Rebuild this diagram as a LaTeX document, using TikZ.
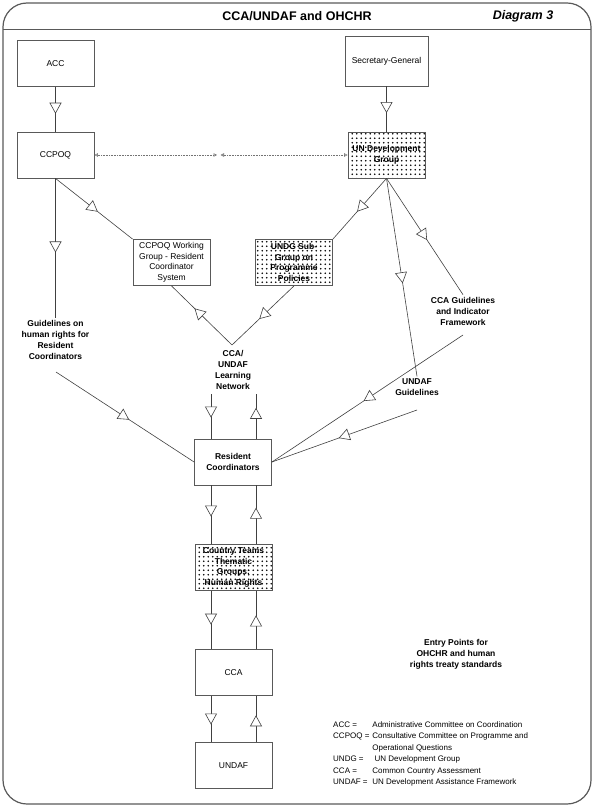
\documentclass[tikz,border=0pt]{standalone}
\usepackage{fontspec}
\setmainfont{Liberation Sans}
\usepackage{tikz}
\usetikzlibrary{shapes,arrows,arrows.meta,decorations.markings,patterns.meta}

\tikzdeclarepattern{
	name=dotfill,
	type=uncolored,
	bottom left={(-1pt,-1pt)},
	top right={(3.5pt,3.5pt)},
	tile size={(4.5pt,4.5pt)},
	code={\tikzset{x=1pt,y=1pt}\fill (1.2pt,1.2pt) circle (0.85pt);}
}

\tikzset{
	link/.style = {draw=black!75, line width=0.6pt, postaction={decorate},
		decoration={markings, mark=at position #1 with {\arrow{Triangle[fill=white, length=11pt, width=12pt]}}}},
	dotlink/.style = {draw=black!55, densely dotted, line width=0.6pt,
		{Triangle[open, length=3.5pt, width=3.5pt]}-{Triangle[open, length=3.5pt, width=3.5pt]}}
}

\begin{document}
\begin{tikzpicture}[x=1pt, y=-1pt]
\tikzstyle{box} = [rectangle, draw=black!65, line width=0.8pt, minimum width=77pt, minimum height=46pt, align=center, inner sep=1pt, font=\fontsize{8.5}{10.5}\selectfont]
\tikzstyle{boldbox} = [box, font=\fontsize{8.5}{10.5}\selectfont\bfseries]
\tikzstyle{dotbox} = [boldbox, pattern=dotfill, pattern color=black]
\tikzstyle{lbl} = [align=center, inner sep=2pt, font=\fontsize{8.5}{11}\selectfont\bfseries]
\useasboundingbox (0,0) rectangle (594,810);
\draw[draw=black!65, line width=1.2pt, rounded corners=24pt] (3,3) rectangle (591,804);
\draw[draw=black!65, line width=1pt] (3,30) -- (591,30);
\node[font=\fontsize{12.5}{14}\selectfont\bfseries] (title) at (297,16) {CCA/UNDAF and OHCHR};
\node[font=\fontsize{12.5}{14}\selectfont\bfseries\itshape] (diagno) at (523,16) {Diagram 3};

\node[box] (acc) at (55.5,63.5) {ACC};
\node[box, minimum width=83pt, minimum height=50pt] (sg) at (386.5,61) {Secretary-General};
\node[box] (ccpoq) at (55.5,155) {CCPOQ};
\node[dotbox] (undg) at (386.5,155) {UN Development\\Group};
\node[box] (wg) at (171.5,262.5) {CCPOQ Working\\Group - Resident\\Coordinator\\System};
\node[dotbox] (subg) at (294,262.5) {UNDG Sub-\\Group on\\Programme\\Policies};
\node[boldbox] (rc) at (233,462) {Resident\\Coordinators};
\node[dotbox] (ct) at (233.5,567.5) {Country Teams\\Thematic\\Groups:\\Human Rights};
\node[box] (cca) at (233.5,672.5) {CCA};
\node[box] (undaf) at (233.5,765.5) {UNDAF};

\node[lbl] (glab) at (55.5,340) {Guidelines on\\human rights for\\Resident\\Coordinators};
\node[lbl] (lnlab) at (233,370) {CCA/\\UNDAF\\Learning\\Network};
\node[lbl] (ccaglab) at (463,311) {CCA Guidelines\\and Indicator\\Framework};
\node[lbl] (uglab) at (417,387) {UNDAF\\Guidelines};
\node[lbl] (entry) at (456,654) {Entry Points for\\OHCHR and human\\rights treaty standards};

\node[anchor=north west, inner sep=0pt, font=\fontsize{8}{11.5}\selectfont] (legend) at (333,719) {%
	\begin{tabular}{@{}l@{\hspace{3pt}}l@{}}
		ACC = & Administrative Committee on Coordination \\
		CCPOQ = & Consultative Committee on Programme and \\
		& Operational Questions \\
		UNDG = & \ UN Development Group \\
		CCA = & Common Country Assessment \\
		UNDAF = & UN Development Assistance Framework
	\end{tabular}};

\coordinate (dl) at (217,155);
\coordinate (dr) at (220.5,155);
\coordinate (glout) at (56,372);
\coordinate (ccagout) at (463,335);
\coordinate (ugout) at (417,410);
\coordinate (lnet) at (232,345);
\coordinate (lnl) at (211,394);
\coordinate (lnr) at (256,394);

\draw[link=0.6] (acc) -- (ccpoq);
\draw[link=0.59] (sg) -- (undg);
\draw[dotlink] (ccpoq.east) -- (dl);
\draw[dotlink] (dr) -- (undg.west);
\draw[link=0.55] (ccpoq.south) -- (wg.north west);
\draw[link=0.53] (ccpoq.south) -- (glab.north);
\draw[link=0.53] (glout) -- (rc.west);
\draw[link=0.55] (undg.south) -- (subg.north east);
\draw[link=0.53] (undg.south) -- (uglab.north);
\draw[link=0.53] (undg.south) -- (ccaglab.north);
\draw[link=0.52] (ccagout) -- (rc.east);
\draw[link=0.54] (ugout) -- (rc.east);
\draw[link=0.62] (lnet) -- (wg.south);
\draw[link=0.56] (subg.south) -- (lnet);
\draw[link=0.53] (lnl) -- (lnl |- rc.north);
\draw[link=0.69] (lnr |- rc.north) -- (lnr);
\draw[link=0.53] (rc.south -| lnl) -- (ct.north -| lnl);
\draw[link=0.62] (ct.north -| lnr) -- (rc.south -| lnr);
\draw[link=0.58] (ct.south -| lnl) -- (cca.north -| lnl);
\draw[link=0.58] (cca.north -| lnr) -- (ct.south -| lnr);
\draw[link=0.62] (cca.south -| lnl) -- (undaf.north -| lnl);
\draw[link=0.58] (undaf.north -| lnr) -- (cca.south -| lnr);
\end{tikzpicture}
\end{document}
